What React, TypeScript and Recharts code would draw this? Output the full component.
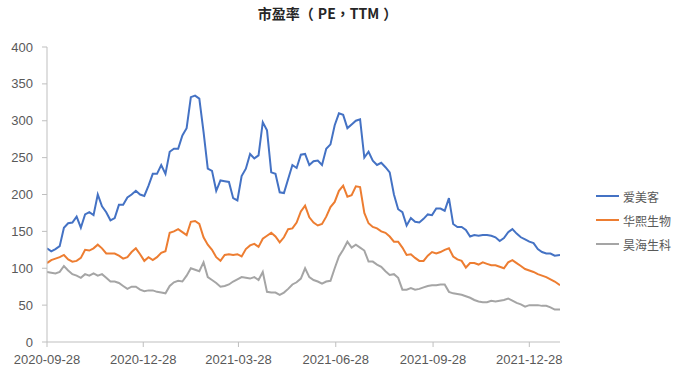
import { LineChart, Line, XAxis, YAxis, Legend } from "recharts";

// sampled roughly every 4 days
const dates = [
  "2020-09-28","2020-10-02","2020-10-06","2020-10-10","2020-10-14","2020-10-18","2020-10-22","2020-10-26","2020-10-30","2020-11-03",
  "2020-11-07","2020-11-11","2020-11-15","2020-11-19","2020-11-23","2020-11-27","2020-12-01","2020-12-05","2020-12-09","2020-12-13",
  "2020-12-17","2020-12-21","2020-12-25","2020-12-29","2021-01-02","2021-01-06","2021-01-10","2021-01-14","2021-01-18","2021-01-22",
  "2021-01-26","2021-01-30","2021-02-03","2021-02-07","2021-02-11","2021-02-15","2021-02-19","2021-02-23","2021-02-27","2021-03-03",
  "2021-03-07","2021-03-11","2021-03-15","2021-03-19","2021-03-23","2021-03-27","2021-03-31","2021-04-04","2021-04-08","2021-04-12",
  "2021-04-16","2021-04-20","2021-04-24","2021-04-28","2021-05-02","2021-05-06","2021-05-10","2021-05-14","2021-05-18","2021-05-22",
  "2021-05-26","2021-05-30","2021-06-03","2021-06-07","2021-06-11","2021-06-15","2021-06-19","2021-06-23","2021-06-27","2021-07-01",
  "2021-07-05","2021-07-09","2021-07-13","2021-07-17","2021-07-21","2021-07-25","2021-07-29","2021-08-02","2021-08-06","2021-08-10",
  "2021-08-14","2021-08-18","2021-08-22","2021-08-26","2021-08-30","2021-09-03","2021-09-07","2021-09-11","2021-09-15","2021-09-19",
  "2021-09-23","2021-09-27","2021-10-01","2021-10-05","2021-10-09","2021-10-13","2021-10-17","2021-10-21","2021-10-25","2021-10-29",
  "2021-11-02","2021-11-06","2021-11-10","2021-11-14","2021-11-18","2021-11-22","2021-11-26","2021-11-30","2021-12-04","2021-12-08",
  "2021-12-12","2021-12-16","2021-12-20","2021-12-24","2021-12-28","2022-01-01","2022-01-05","2022-01-09","2022-01-13","2022-01-17",
  "2022-01-21","2022-01-26",
];

const aimeike = [
  127,123,126,130,155,161,162,170,155,173,
  176,172,200,184,176,165,168,186,186,196,
  200,205,200,198,212,228,228,240,228,258,
  262,262,280,290,332,334,330,285,235,232,
  205,219,218,217,195,192,225,235,255,249,
  253,298,287,230,228,203,202,221,240,236,
  254,255,240,245,246,240,262,268,294,310,
  308,290,295,300,302,250,258,246,240,243,
  237,230,200,180,176,158,168,163,162,167,
  173,172,181,181,178,195,160,156,156,152,
  143,145,144,145,145,144,142,137,141,149,
  153,147,142,139,136,134,126,122,120,120,
  117,118,
];

const huaxi = [
  107,111,113,115,118,112,109,110,114,125,
  124,127,132,127,120,120,120,117,113,115,
  122,127,119,110,115,111,115,121,123,148,
  150,153,149,145,163,164,160,142,132,125,
  115,110,118,119,118,119,116,126,131,133,
  129,140,144,148,143,135,142,153,154,162,
  177,185,169,162,158,160,170,183,190,205,
  212,197,199,211,210,175,161,156,154,150,
  148,143,136,136,128,118,119,114,110,110,
  117,122,120,122,125,127,116,112,110,101,
  107,107,105,108,106,104,104,102,100,108,
  111,107,103,99,97,95,92,90,88,85,
  82,77,
];

const haohai = [
  95,94,93,95,103,97,92,90,87,92,
  90,93,90,92,87,82,82,80,76,72,
  75,75,71,69,70,70,68,67,66,76,
  81,83,82,90,100,98,96,108,88,84,
  80,75,76,78,82,85,88,87,86,88,
  84,95,68,67,67,64,67,72,78,81,
  86,100,88,84,82,79,82,83,100,116,
  125,136,128,132,128,124,109,109,105,102,
  96,91,92,87,71,71,73,71,72,74,
  76,77,77,78,78,68,66,65,64,62,
  60,57,55,54,54,56,55,56,57,59,
  56,53,51,48,50,50,50,49,49,47,
  44,44,
];

const xTicks = ["2020-09-28", "2020-12-28", "2021-03-28", "2021-06-28", "2021-09-28", "2021-12-28"];
const yTicks = [0, 50, 100, 150, 200, 250, 300, 350, 400];

const series = [
  { key: "a", name: "爱美客", color: "#4472C4" },
  { key: "h", name: "华熙生物", color: "#ED7D31" },
  { key: "g", name: "昊海生科", color: "#A5A5A5" },
];

const data = dates.map((d, i) => ({
  t: Date.parse(d),
  a: aimeike[i],
  h: huaxi[i],
  g: haohai[i],
}));

const fmt = (v: number) => new Date(v).toISOString().slice(0, 10);

function LegendBox() {
  return (
    <div>
      {series.map((s) => (
        <div key={s.key} style={{ display: "flex", alignItems: "center", height: 24 }}>
          <div style={{ width: 23, height: 2, background: s.color, marginRight: 4 }} />
          <span style={{ fontSize: 12, color: "#595959" }}>{s.name}</span>
        </div>
      ))}
    </div>
  );
}

export default function App() {
  const axisColor = "#bfbfbf";
  const tickStyle = { fontSize: 13, fill: "#595959" };
  return (
    <div
      style={{
        position: "fixed",
        left: 0,
        top: 0,
        width: 693,
        height: 378,
        background: "#fff",
        fontFamily: '"Liberation Sans", "Noto Sans CJK SC", sans-serif',
      }}
    >
      <div
        style={{
          position: "absolute",
          left: 0,
          width: 655,
          top: 3,
          textAlign: "center",
          fontSize: 14,
          fontWeight: "bold",
          color: "#262626",
          fontFamily: '"Noto Sans CJK TC", sans-serif',
        }}
      >
        市盈率（<span style={{ paddingLeft: 4 }}>PE</span>，<span style={{ paddingRight: 4 }}>TTM</span>）
      </div>
      <LineChart width={693} height={378} data={data} margin={{ top: 47, right: 133, bottom: 6, left: 0 }}>
        <XAxis
          dataKey="t"
          type="number"
          scale="time"
          domain={[Date.parse("2020-09-28"), Date.parse("2022-01-26")]}
          ticks={xTicks.map((d) => Date.parse(d))}
          tickFormatter={fmt}
          height={30}
          tick={tickStyle}
          tickSize={5}
          tickMargin={8}
          stroke={axisColor}
          allowDataOverflow
        />
        <YAxis
          domain={[0, 400]}
          ticks={yTicks}
          width={47}
          tick={tickStyle}
          tickSize={5}
          tickMargin={9}
          stroke={axisColor}
          interval={0}
        />
        {series.map((s) => (
          <Line
            key={s.key}
            dataKey={s.key}
            name={s.name}
            stroke={s.color}
            strokeWidth={2}
            dot={false}
            type="linear"
            isAnimationActive={false}
          />
        ))}
        <Legend
          layout="horizontal"
          verticalAlign="middle"
          align="center"
          content={() => <LegendBox />}
          wrapperStyle={{ left: 596, top: 184, width: 95 }}
        />
      </LineChart>
    </div>
  );
}
